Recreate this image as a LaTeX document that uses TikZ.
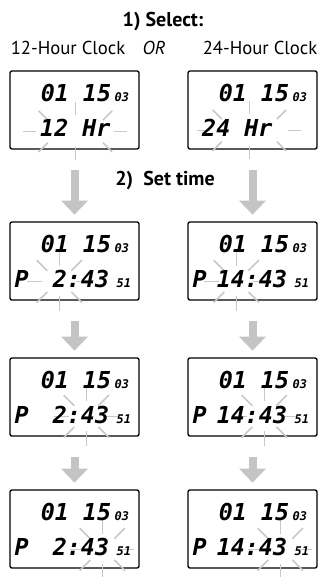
\documentclass[tikz,border=0pt]{standalone}
\usepackage{fontspec}
\setmainfont{PT Sans}
\newfontfamily\lcdfont{DejaVu Sans Mono}
\usetikzlibrary{arrows.meta,calc}
\definecolor{flowgray}{RGB}{196,196,196}
\definecolor{raygray}{RGB}{200,200,200}
\begin{document}
\begin{tikzpicture}[x=0.75pt,y=0.75pt,yscale=-1,xscale=1,
  lcdbox/.style={draw=black,line width=1pt,rounded corners=1.5pt,minimum width=96.75pt,minimum height=58.5pt,inner sep=0pt},
  lcdbig/.style={inner sep=0pt,font=\lcdfont\bfseries\itshape\fontsize{17.5}{17.5}\selectfont},
  lcdsmall/.style={inner sep=0pt,font=\lcdfont\bfseries\itshape\fontsize{9}{9}\selectfont},
  flow/.style={draw=flowgray,line width=6pt,-{Triangle[width=19.5pt,length=10.5pt]},shorten <=15pt,shorten >=5pt},
  ray/.style={draw=raygray,line width=1.2pt}]
\useasboundingbox (0,0) rectangle (323,577);
%Shape: Rectangle
\node[lcdbox] (l1) at (74.5,110) {};
\node[lcdbox] (r1) at (252.5,110) {};
\node[lcdbox] (l2) at (74.5,261) {};
\node[lcdbox] (r2) at (252.5,261) {};
\node[lcdbox] (l3) at (74.5,397) {};
\node[lcdbox] (r3) at (252.5,397) {};
\node[lcdbox] (l4) at (74.5,529) {};
\node[lcdbox] (r4) at (252.5,529) {};
%Straight Lines
\draw[flow] (l1) -- (l2);
\draw[flow] (r1) -- (r2);
\draw[flow] (l2) -- (l3);
\draw[flow] (r2) -- (r3);
\draw[flow] (l3) -- (l4);
\draw[flow] (r3) -- (r4);
% Flashing rays
\coordinate (fl1) at ($(l1.north west)+(66,61)$);
\coordinate (fr1) at ($(r1.north west)+(62,60)$);
\coordinate (fl2) at ($(l2.north west)+(50,60)$);
\coordinate (fr2) at ($(r2.north west)+(49,60)$);
\coordinate (fl3) at ($(l3.north west)+(77,59)$);
\coordinate (fr3) at ($(r3.north west)+(77,59)$);
\coordinate (fl4) at ($(l4.north west)+(93,60)$);
\coordinate (fr4) at ($(r4.north west)+(93,60)$);
\foreach \f in {fl1,fr1}
  \foreach \a in {0,45,...,315}
    \draw[ray] ($(\f)+(\a:39 and 16)$) -- ($(\f)+(\a:52 and 29)$);
\foreach \f in {fl2,fr2,fl3,fr3,fl4,fr4}
  \foreach \a in {0,45,...,315}
    \draw[ray] ($(\f)+(\a:17 and 15)$) -- ($(\f)+(\a:32 and 30)$);
% Text Node
\foreach \b in {l1,r1,l2,r2,l3,r3,l4,r4} {
  \node[lcdbig,anchor=east] (\b-date) at ($(\b.north west)+(102,22.5)$) {01 15};
  \node[lcdsmall,anchor=base west] (\b-day) at ($(\b.north west)+(105,31)$) {03};
}
% Text Node
\node[lcdbig] (l1-mode) at ($(l1.north west)+(66,58)$) {12 Hr};
\node[lcdbig] (r1-mode) at ($(r1.north west)+(50,58)$) {24 Hr};
% Text Node
\foreach \b/\t in {l2/2:43,l3/2:43,l4/2:43,r2/14:43,r3/14:43,r4/14:43} {
  \node[lcdbig,anchor=west] (\b-ampm) at ($(\b.north west)+(5,58)$) {P};
  \node[lcdbig,anchor=east] (\b-time) at ($(\b.north west)+(100,58)$) {\t};
  \node[lcdsmall,anchor=base west] (\b-sec) at ($(\b.north west)+(107,66.5)$) {51};
}
% Text Node
\node[font=\bfseries\fontsize{15}{18}\selectfont] (select) at (163,22) {1) Select:};
\node[font=\fontsize{14}{17}\selectfont] (clock12) at (68,48) {12-Hour Clock};
\node[font=\itshape\fontsize{14}{17}\selectfont] (or) at (154,48) {OR};
\node[font=\fontsize{14}{17}\selectfont] (clock24) at (260,48) {24-Hour Clock};
\node[font=\bfseries\fontsize{15}{18}\selectfont] (settime) at (165,181) {2)~~Set time};
\end{tikzpicture}
\end{document}
